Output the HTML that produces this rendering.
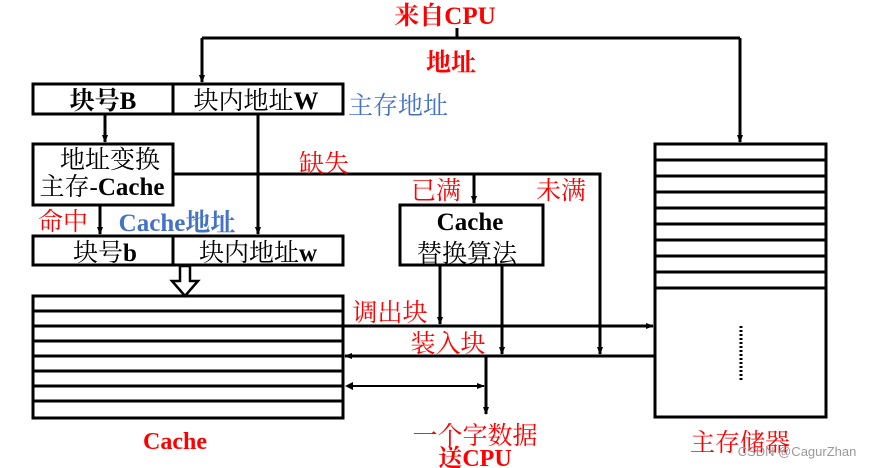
<!DOCTYPE html>
<html><head><meta charset="utf-8"><style>
body{margin:0;background:#fff}
svg{display:block}
text{font-family:"Liberation Serif","Noto Serif CJK SC",serif;font-size:25px}
.r{fill:#f00;font-weight:bold}
.b{fill:#4472c4;font-weight:bold}
.k{fill:#000}
</style></head><body>
<svg width="871" height="468" viewBox="0 0 871 468">
<defs><marker id="a" markerWidth="8" markerHeight="8" refX="7" refY="4" orient="auto" markerUnits="userSpaceOnUse"><path d="M0,1 L8,4 L0,7 Z" fill="#000"/></marker></defs>
<g stroke="#000" stroke-width="3" fill="none">
<path d="M457 28V38"/>
<path d="M202 38H740"/>
<path d="M202 38V82" marker-end="url(#a)"/>
<path d="M740 38V142" marker-end="url(#a)"/>
<rect x="33" y="84" width="310" height="30"/><path d="M173 84V114"/>
<path d="M105 114V142" marker-end="url(#a)"/>
<rect x="33" y="144" width="140" height="61"/>
<path d="M258 114V234" marker-end="url(#a)"/>
<path d="M100 205V234" marker-end="url(#a)"/>
<rect x="33" y="236" width="310" height="29"/><path d="M173 236V265"/>
<path d="M173 174H600V354" marker-end="url(#a)"/>
<path d="M474 174V203" marker-end="url(#a)"/>
<rect x="400" y="205" width="143" height="60"/>
<path d="M440 265V324" marker-end="url(#a)"/>
<path d="M502 265V354" marker-end="url(#a)"/>
<rect x="33" y="296" width="310" height="122"/>
<path d="M33 311H343M33 326H343M33 341H343M33 356H343M33 371H343M33 386H343M33 401H343"/>
<path d="M343 326H653" marker-end="url(#a)"/>
<path d="M655 356H345" marker-end="url(#a)"/>
<path d="M486 356V414" marker-end="url(#a)"/>
<rect x="655" y="144" width="171" height="273"/>
<path d="M655 160H826M655 176H826M655 192H826M655 208H826M655 224H826M655 240H826M655 256H826M655 272H826M655 288H826"/>
</g>
<path d="M347 386H484" stroke="#000" stroke-width="2" marker-end="url(#a)"/>
<path d="M345 386L353 382L353 390Z" fill="#000"/>
<path d="M741 326V382" stroke="#000" stroke-width="3" stroke-dasharray="2,2"/>
<path d="M180 266V281H172L185 296L198 281H190V266Z" fill="#fff" stroke="#000" stroke-width="2.5"/>
<text class="r" x="445" y="24" text-anchor="middle">来自CPU</text>
<text class="r" x="451" y="71" text-anchor="middle">地址</text>
<text class="b" x="348" y="114" style="font-weight:normal">主存地址</text>
<text class="k" x="103" y="109" text-anchor="middle" style="font-weight:bold">块号B</text>
<text class="k" x="256" y="109" text-anchor="middle">块内地址<tspan font-weight="bold">W</tspan></text>
<text class="k" x="110" y="168" text-anchor="middle">地址变换</text>
<text class="k" x="102" y="195" text-anchor="middle">主存-<tspan font-weight="bold">Cache</tspan></text>
<text class="r" x="324" y="172" text-anchor="middle" style="font-weight:normal">缺失</text>
<text class="r" x="436" y="199" text-anchor="middle" style="font-weight:normal">已满</text>
<text class="r" x="561" y="199" text-anchor="middle" style="font-weight:normal">未满</text>
<text class="r" x="63" y="230" text-anchor="middle" style="font-weight:normal">命中</text>
<text class="b" x="177" y="231" text-anchor="middle">Cache地址</text>
<text class="k" x="105" y="261" text-anchor="middle">块号<tspan font-weight="bold">b</tspan></text>
<text class="k" x="258" y="261" text-anchor="middle">块内地址<tspan font-weight="bold">w</tspan></text>
<text class="k" x="470" y="230" text-anchor="middle" font-weight="bold">Cache</text>
<text class="k" x="467" y="262" text-anchor="middle">替换算法</text>
<text class="r" x="390" y="321" text-anchor="middle" style="font-weight:normal">调出块</text>
<text class="r" x="448" y="352" text-anchor="middle" style="font-weight:normal">装入块</text>
<text class="r" x="175" y="449" text-anchor="middle" style="font-size:24px">Cache</text>
<text class="r" x="475" y="444" text-anchor="middle" style="font-weight:normal">一个字数据</text>
<text class="r" x="475" y="466" text-anchor="middle" style="font-size:24px">送CPU</text>
<text class="r" x="740" y="451" text-anchor="middle" style="font-weight:normal">主存储器</text>
<text x="797" y="456" text-anchor="middle" style="font-family:'Liberation Sans',sans-serif;font-size:13px;fill:#999">CSDN @CagurZhan</text>
</svg>
</body></html>
